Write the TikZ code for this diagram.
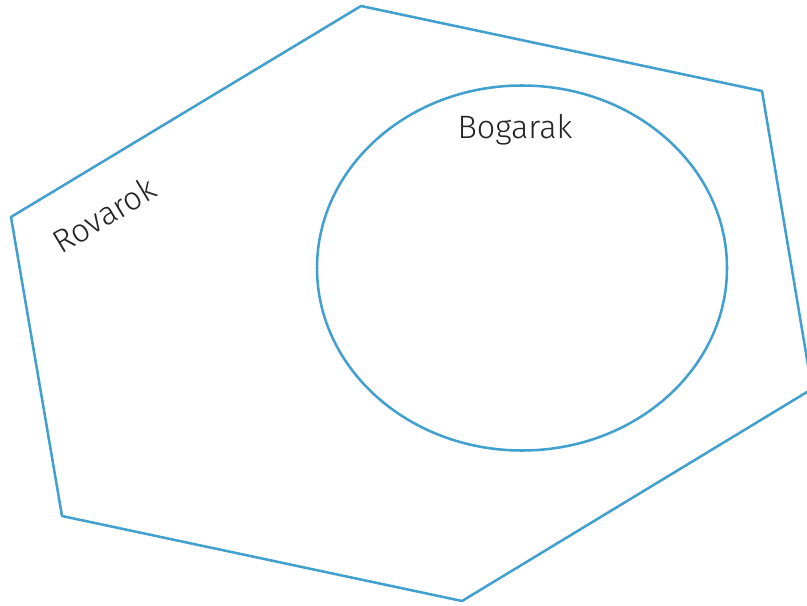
\documentclass[tikz,border=0pt]{standalone}
\usepackage{fontspec}
\setmainfont{Fira Sans Light}
\usepackage{tikz}
\usetikzlibrary{positioning}
\definecolor{setblue}{RGB}{66,160,206}
\definecolor{labelgray}{RGB}{35,35,35}

\begin{document}
\begin{tikzpicture}[
  x=0.025cm, y=-0.025cm,
  outline/.style={draw=setblue, line width=1.8pt, line join=round},
  setlabel/.style={text=labelgray, font=\fontsize{23}{27}\selectfont, inner sep=0pt}
]
\useasboundingbox (0,0) rectangle (807,605);
\coordinate (h1) at (361,6);
\coordinate (h2) at (762,91);
\coordinate (h3) at (812,389);
\coordinate (h4) at (462,601);
\coordinate (h5) at (62,516);
\coordinate (h6) at (11,217);
\begin{scope}
\clip (0,0) rectangle (807,605);
\draw[outline] (h1) -- (h2) -- (h3) -- (h4) -- (h5) -- (h6) -- cycle;
\end{scope}
\draw[outline] (522,268) ellipse[x radius=205, y radius=182.5];
\node[setlabel] (bogarak) at (515,130) {Bogarak};
\node[setlabel, rotate=31] (rovarok) at (104,215) {Rovarok};
\end{tikzpicture}
\end{document}
